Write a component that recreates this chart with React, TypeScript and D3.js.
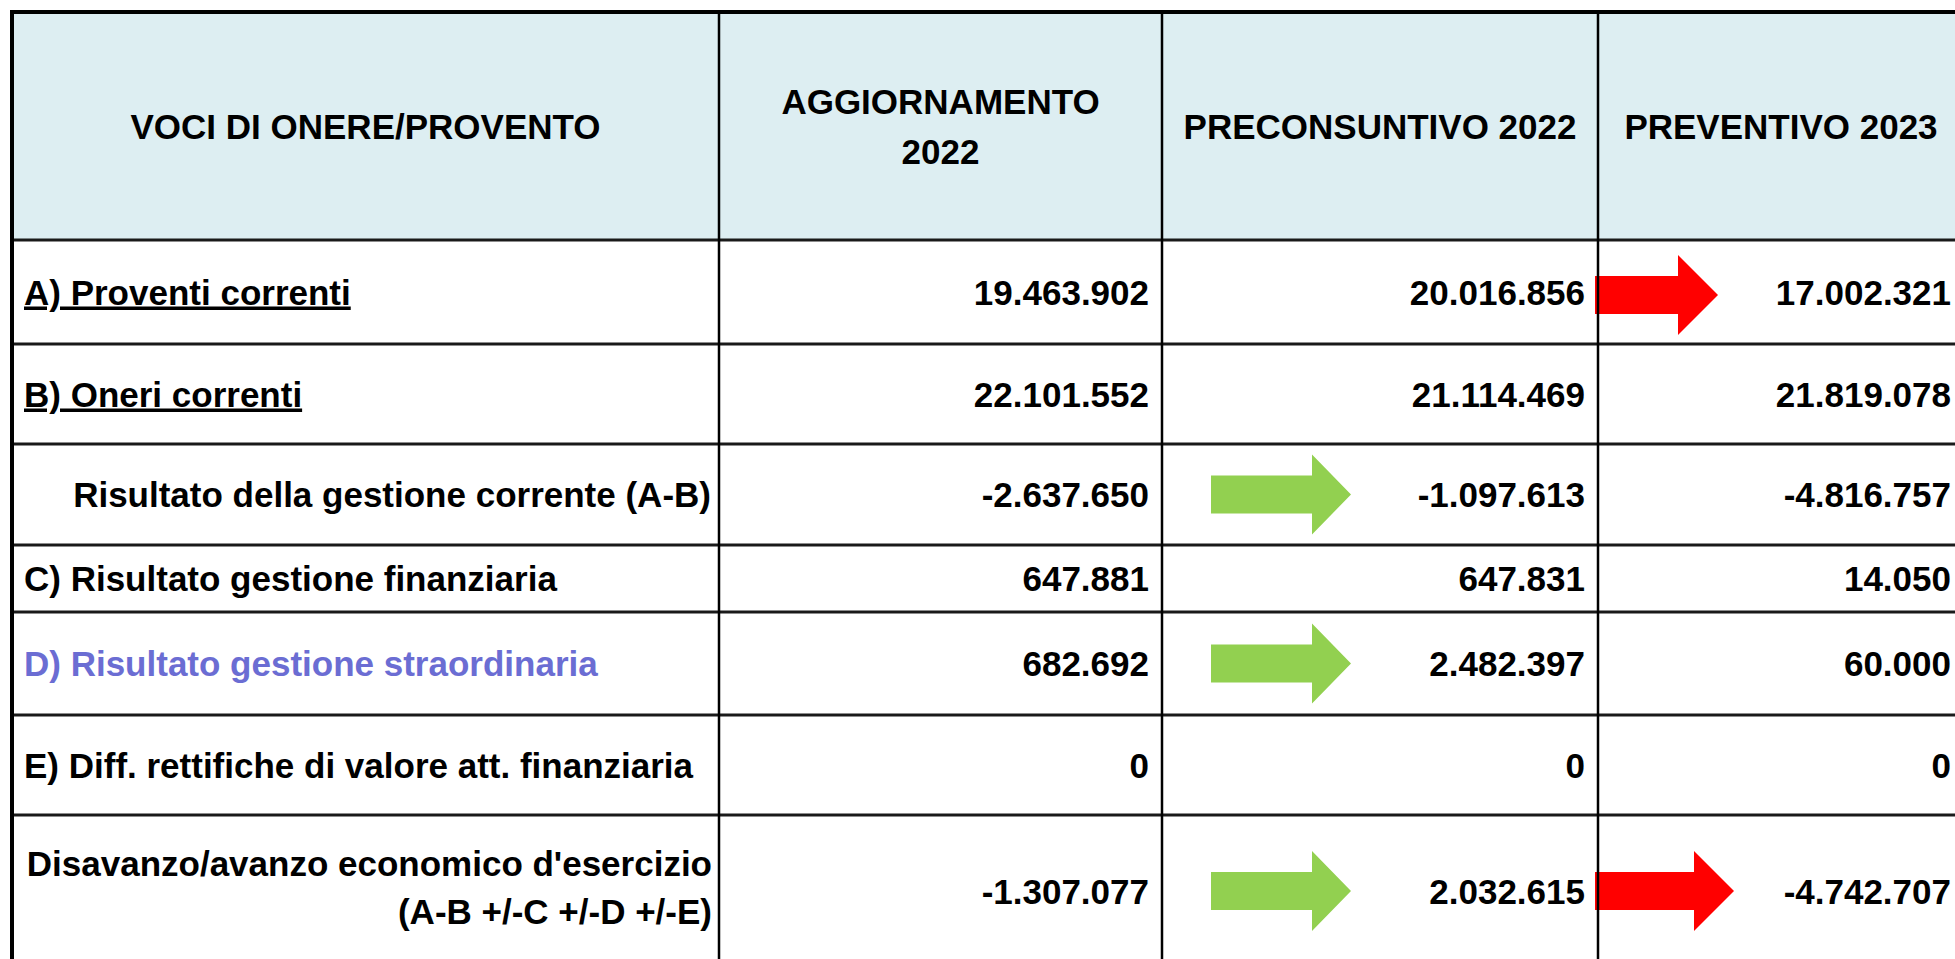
import React from "react";
import * as d3 from "d3";

// ---- Data ----
const headers: string[][] = [
  ["VOCI DI ONERE/PROVENTO"],
  ["AGGIORNAMENTO", "2022"],
  ["PRECONSUNTIVO 2022"],
  ["PREVENTIVO 2023"],
];

const rowLabels: string[][] = [
  ["A) Proventi correnti"],
  ["B) Oneri correnti"],
  ["Risultato della gestione corrente (A-B)"],
  ["C) Risultato gestione finanziaria"],
  ["D) Risultato gestione straordinaria"],
  ["E) Diff. rettifiche di valore att. finanziaria"],
  ["Disavanzo/avanzo economico d'esercizio", "(A-B +/-C +/-D +/-E)"],
];

const aggiornamento2022: number[] = [19463902, 22101552, -2637650, 647881, 682692, 0, -1307077];
const preconsuntivo2022: number[] = [20016856, 21114469, -1097613, 647831, 2482397, 0, 2032615];
const preventivo2023: number[] = [17002321, 21819078, -4816757, 14050, 60000, 0, -4742707];

// arrows: row index, column index (1..3), trend
const arrows: { row: number; col: number; trend: "up" | "down" }[] = [
  { row: 0, col: 3, trend: "down" },
  { row: 2, col: 2, trend: "up" },
  { row: 4, col: 2, trend: "up" },
  { row: 6, col: 2, trend: "up" },
  { row: 6, col: 3, trend: "down" },
];

// ---- Layout ----
const W = 1955;
const H = 959;
const colEdges = [12, 719, 1162, 1598, 1964];
const tableTop = 12;
const headerH = 228;
const rowHeights = [104, 100, 101, 67, 103, 100, 152];
const FONT = "'Liberation Sans', Arial, Helvetica, sans-serif";
const FS = 35;

const itLocale = d3.formatLocale({
  decimal: ",",
  thousands: ".",
  grouping: [3],
  currency: ["€", ""],
  minus: "-",
});
const fmt = itLocale.format(",d");

export default function App() {
  const columns = [aggiornamento2022, preconsuntivo2022, preventivo2023];
  const rowEdges = [tableTop, tableTop + headerH];
  rowHeights.forEach((h) => rowEdges.push(rowEdges[rowEdges.length - 1] + h));

  const rowCenter = (i: number) => (rowEdges[i + 1] + rowEdges[i + 2]) / 2;
  const headerCenter = (rowEdges[0] + rowEdges[1]) / 2;
  const capHalf = 12.5;

  const xScale = d3.scaleOrdinal<number, number>().domain([0, 1, 2, 3, 4]).range(colEdges);

  const arrowPath = (x0: number, cy: number, len: number, headLen: number) => {
    const shaftHalf = 19;
    const headHalf = 40;
    const p = d3.path();
    p.moveTo(x0, cy - shaftHalf);
    p.lineTo(x0 + len - headLen, cy - shaftHalf);
    p.lineTo(x0 + len - headLen, cy - headHalf);
    p.lineTo(x0 + len, cy);
    p.lineTo(x0 + len - headLen, cy + headHalf);
    p.lineTo(x0 + len - headLen, cy + shaftHalf);
    p.lineTo(x0, cy + shaftHalf);
    p.closePath();
    return p.toString();
  };

  return (
    <svg
      width={W}
      height={H}
      style={{ position: "absolute", left: 0, top: 0, display: "block", background: "#fff" }}
      fontFamily={FONT}
      fontWeight="bold"
      fontSize={FS}
    >
      {/* header background */}
      <rect
        x={colEdges[0]}
        y={rowEdges[0]}
        width={colEdges[4] - colEdges[0]}
        height={headerH}
        fill="#DDEEF2"
      />

      {/* header texts */}
      {headers.map((lines, c) => {
        const cx = (xScale(c) + xScale(c + 1)) / 2;
        const lh = 50;
        const startBase = headerCenter + capHalf - ((lines.length - 1) * lh) / 2;
        return (
          <text key={"h" + c} textAnchor="middle" fill="#000">
            {lines.map((l, k) => (
              <tspan key={k} x={cx} y={startBase + k * lh}>
                {l}
              </tspan>
            ))}
          </text>
        );
      })}

      {/* row labels */}
      {rowLabels.map((lines, r) => {
        const cy = rowCenter(r);
        const underline = r === 0 || r === 1;
        const color = r === 4 ? "#6B6DD3" : "#000";
        if (lines.length === 1) {
          const rightAligned = r === 2;
          return (
            <text
              key={"l" + r}
              x={rightAligned ? colEdges[1] - 8 : colEdges[0] + 12}
              y={cy + capHalf}
              textAnchor={rightAligned ? "end" : "start"}
              fill={color}
              style={underline ? { textDecoration: "underline" } : undefined}
            >
              {lines[0]}
            </text>
          );
        }
        const lh = 48;
        const startBase = cy + capHalf - ((lines.length - 1) * lh) / 2 - 4;
        return (
          <text key={"l" + r} textAnchor="end" fill={color}>
            {lines.map((l, k) => (
              <tspan key={k} x={colEdges[1] - 7} y={startBase + k * lh}>
                {l}
              </tspan>
            ))}
          </text>
        );
      })}

      {/* arrows */}
      {arrows.map((a, i) => {
        const up = a.trend === "up";
        const cy = rowCenter(a.row) + (a.row === 0 ? 3 : 0);
        const x0 = up ? xScale(a.col) + 49 : xScale(a.col) - 3;
        const len = up ? 140 : a.row === 0 ? 123 : 139;
        const head = up ? 39 : 40;
        return (
          <path
            key={"a" + i}
            d={arrowPath(x0, cy, len, head)}
            fill={up ? "#92D050" : "#FF0000"}
          />
        );
      })}

      {/* values */}
      {columns.map((vals, c) =>
        vals.map((v, r) => (
          <text
            key={"v" + c + "-" + r}
            x={xScale(c + 2) - 13}
            y={rowCenter(r) + capHalf}
            textAnchor="end"
            fill="#000"
          >
            {fmt(v)}
          </text>
        ))
      )}

      {/* horizontal grid lines */}
      {rowEdges.slice(1, -1).map((y, i) => (
        <line
          key={"hl" + i}
          x1={colEdges[0]}
          x2={colEdges[4]}
          y1={y}
          y2={y}
          stroke="#1a1a1a"
          strokeWidth={3}
        />
      ))}

      {/* vertical grid lines */}
      {colEdges.slice(1, -1).map((x, i) => (
        <line
          key={"vl" + i}
          x1={x}
          x2={x}
          y1={rowEdges[0]}
          y2={rowEdges[rowEdges.length - 1]}
          stroke="#000"
          strokeWidth={2.5}
        />
      ))}

      {/* outer border */}
      <rect
        x={colEdges[0]}
        y={rowEdges[0]}
        width={colEdges[4] - colEdges[0]}
        height={rowEdges[rowEdges.length - 1] - rowEdges[0]}
        fill="none"
        stroke="#000"
        strokeWidth={4}
      />
    </svg>
  );
}
